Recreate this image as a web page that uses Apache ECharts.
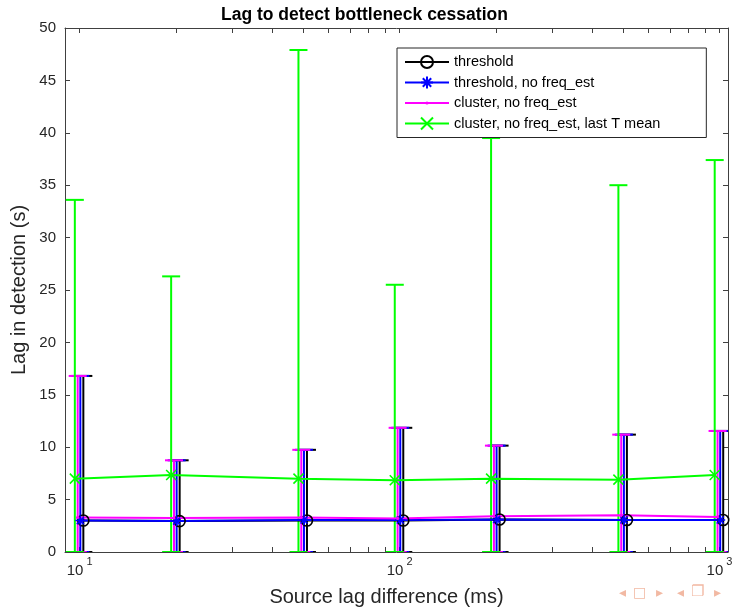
<!DOCTYPE html>
<html>
<head>
<meta charset="utf-8">
<script src="https://cdn.jsdelivr.net/npm/echarts@6/dist/echarts.min.js"></script>
<style>
html,body{margin:0;padding:0;background:#fff;}
#chart{width:733px;height:609px;}
</style>
</head>
<body>
<div id="chart"></div>
<script>
// ---- data ----
const sourceLag = [10, 20, 50, 100, 200, 500, 1000];           // ms
const seriesNames = ['threshold', 'threshold, no freq_est', 'cluster, no freq_est', 'cluster, no freq_est, last T mean'];
// small multiplicative x-jitter used in the original plot to separate series
const seriesXJitter = [1.027, 1.005, 0.986, 0.966];

const thresholdMean   = [3.0, 2.95, 3.0, 3.0, 3.1, 3.05, 3.05];
const thresholdUpper  = [16.8, 8.75, 9.75, 11.85, 10.15, 11.2, 11.55];
const thresholdLower  = [0, 0, 0, 0, 0, 0, 0];

const threshNFMean    = [3.0, 2.95, 3.05, 3.05, 3.1, 3.05, 3.05];
const threshNFUpper   = [16.8, 8.75, 9.75, 11.85, 10.15, 11.2, 11.55];
const threshNFLower   = [0, 0, 0, 0, 0, 0, 0];

const clusterMean     = [3.3, 3.25, 3.3, 3.2, 3.4, 3.5, 3.35];
const clusterUpper    = [16.8, 8.75, 9.75, 11.85, 10.15, 11.2, 11.55];
const clusterLower    = [0, 0, 0, 0, 0, 0, 0];

const lastTMean       = [7.0, 7.35, 7.0, 6.85, 7.0, 6.9, 7.35];
const lastTUpper      = [33.6, 26.3, 47.9, 25.5, 39.5, 35.0, 37.4];
const lastTLower      = [0, 0, 0, 0, 0, 0, 0];

const yTicks = [0, 5, 10, 15, 20, 25, 30, 35, 40, 45, 50];
const xMajorTicks = [10, 100, 1000];
const xMinorTicks = [10,20,30,40,50,60,70,80,90,100,200,300,400,500,600,700,800,900,1000];

// ---- styling ----
const colors = ['#000000', '#0000ff', '#ff00ff', '#00ff00'];
const FONT = 'Liberation Sans, Arial, Helvetica, sans-serif';
const AX = '#404040';
const TXT = '#262626';

const symCircle = 'circle';
const symAsterisk = 'path://M5,0L5,10M0,5L10,5M1.5,1.5L8.5,8.5M1.5,8.5L8.5,1.5';
const symDot = 'path://M-6,-6M6,6M-1.6,0A1.6,1.6,0,1,0,1.6,0A1.6,1.6,0,1,0,-1.6,0Z';
const symX = 'path://M0,0L10,10M0,10L10,0';

const means = [thresholdMean, threshNFMean, clusterMean, lastTMean];
const uppers = [thresholdUpper, threshNFUpper, clusterUpper, lastTUpper];
const lowers = [thresholdLower, threshNFLower, clusterLower, lastTLower];
const symbols = [symCircle, symAsterisk, symDot, symX];
const symSizes = [11, 10, 12, 10];

function errSeries(k) {
  const c = colors[k];
  return {
    type: 'custom',
    name: seriesNames[k] + ' (err)',
    clip: true,
    silent: true,
    animation: false,
    encode: { x: 0, y: [1, 2] },
    data: sourceLag.map((x, i) => [x * seriesXJitter[k], lowers[k][i], uppers[k][i]]),
    renderItem: function (params, api) {
      const x = api.value(0);
      const lo = api.coord([x, api.value(1)]);
      const hi = api.coord([x, api.value(2)]);
      const hw = 9;
      const st = { stroke: c, lineWidth: 2 };
      return {
        type: 'group',
        children: [
          { type: 'line', shape: { x1: lo[0], y1: lo[1], x2: hi[0], y2: hi[1] }, style: st },
          { type: 'line', shape: { x1: hi[0] - hw, y1: hi[1], x2: hi[0] + hw, y2: hi[1] }, style: st },
          { type: 'line', shape: { x1: lo[0] - hw, y1: lo[1], x2: lo[0] + hw, y2: lo[1] }, style: st }
        ]
      };
    }
  };
}

function lineSeries(k) {
  const c = colors[k];
  const isDot = k === 2;
  return {
    type: 'line',
    name: seriesNames[k],
    data: sourceLag.map((x, i) => [x * seriesXJitter[k], means[k][i]]),
    symbol: symbols[k],
    symbolSize: symSizes[k],
    showAllSymbol: true,
    lineStyle: { color: c, width: 2 },
    itemStyle: isDot
      ? { color: c, borderWidth: 0 }
      : { color: 'rgba(0,0,0,0)', borderColor: c, borderWidth: 1.6 },
    emphasis: { disabled: true },
    animation: false
  };
}

const series = [];
for (let k = 0; k < 4; k++) { series.push(errSeries(k)); series.push(lineSeries(k)); }

function xAxisDef(pos, showLabels) {
  return {
    type: 'log',
    logBase: 10,
    position: pos,
    min: 9,
    max: 1063,
    axisLine: { show: true, onZero: false, lineStyle: { color: AX, width: 1 } },
    axisTick: { show: true, inside: true, length: 5, customValues: xMinorTicks, lineStyle: { color: AX } },
    axisLabel: {
      show: showLabels,
      customValues: xMajorTicks,
      margin: 4,
      formatter: function (v) {
        const e = Math.round(Math.log10(v));
        return '{b|10}{s| ' + e + '}';
      },
      rich: {
        b: { fontSize: 15, fontFamily: FONT, color: TXT, lineHeight: 22, verticalAlign: 'bottom' },
        s: { fontSize: 11, fontFamily: FONT, color: TXT, lineHeight: 22, verticalAlign: 'top' }
      }
    },
    splitLine: { show: false },
    minorTick: { show: false }
  };
}

function yAxisDef(pos, showLabels) {
  return {
    type: 'value',
    position: pos,
    min: yTicks[0],
    max: yTicks[yTicks.length - 1],
    interval: 5,
    axisLine: { show: true, onZero: false, lineStyle: { color: AX, width: 1 } },
    axisTick: { show: true, inside: true, length: 5, lineStyle: { color: AX } },
    axisLabel: { show: showLabels, margin: 9, fontSize: 15, fontFamily: FONT, color: TXT },
    splitLine: { show: false }
  };
}

const xb = xAxisDef('bottom', true);
xb.name = 'Source lag difference (ms)';
xb.nameLocation = 'middle';
xb.nameGap = 35;
xb.nameMoveOverlap = false;
xb.nameTextStyle = { fontSize: 20, fontFamily: FONT, color: TXT, padding: [0, 20, 0, 0] };

const yl = yAxisDef('left', true);
yl.name = 'Lag in detection (s)';
yl.nameLocation = 'middle';
yl.nameGap = 36;
yl.nameMoveOverlap = false;
yl.nameTextStyle = { fontSize: 20, fontFamily: FONT, color: TXT };

const option = {
  animation: false,
  backgroundColor: '#ffffff',
  textStyle: { fontFamily: FONT },
  title: {
    text: 'Lag to detect bottleneck cessation',
    left: 216,
    top: 1,
    textStyle: { fontSize: 17.5, fontWeight: 'bold', color: '#000', fontFamily: FONT }
  },
  grid: { left: 65, right: 5, top: 28, bottom: 57, containLabel: false, outerBoundsMode: 'none' },
  xAxis: [xb, xAxisDef('top', false)],
  yAxis: [yl, yAxisDef('right', false)],
  legend: {
    data: seriesNames,
    orient: 'vertical',
    left: 397,
    top: 48,
    itemWidth: 44,
    itemHeight: 15,
    itemGap: 5.5,
    padding: [6.5, 46, 6.5, 7],
    borderColor: '#262626',
    borderWidth: 1,
    backgroundColor: '#ffffff',
    selectedMode: false,
    textStyle: { fontSize: 14.5, color: '#000', fontFamily: FONT }
  },
  graphic: [
    { type: 'text', left: 619, top: 586, style: { text: '◂', fontSize: 14, fill: '#f2b9a3', fontFamily: 'DejaVu Sans' } },
    { type: 'text', left: 633, top: 586, style: { text: '□', fontSize: 14, fill: '#f2b9a3', fontFamily: 'DejaVu Sans' } },
    { type: 'text', left: 656, top: 586, style: { text: '▸', fontSize: 14, fill: '#f2b9a3', fontFamily: 'DejaVu Sans' } },
    { type: 'text', left: 677, top: 586, style: { text: '◂', fontSize: 14, fill: '#f2b9a3', fontFamily: 'DejaVu Sans' } },
    { type: 'text', left: 691, top: 585, style: { text: '❐', fontSize: 15, fill: '#f2b9a3', fontFamily: 'DejaVu Sans' } },
    { type: 'text', left: 714, top: 586, style: { text: '▸', fontSize: 14, fill: '#f2b9a3', fontFamily: 'DejaVu Sans' } }
  ],
  series: series
};

const chart = echarts.init(document.getElementById('chart'), null, { renderer: 'canvas' });
chart.setOption(option);
</script>
</body>
</html>
